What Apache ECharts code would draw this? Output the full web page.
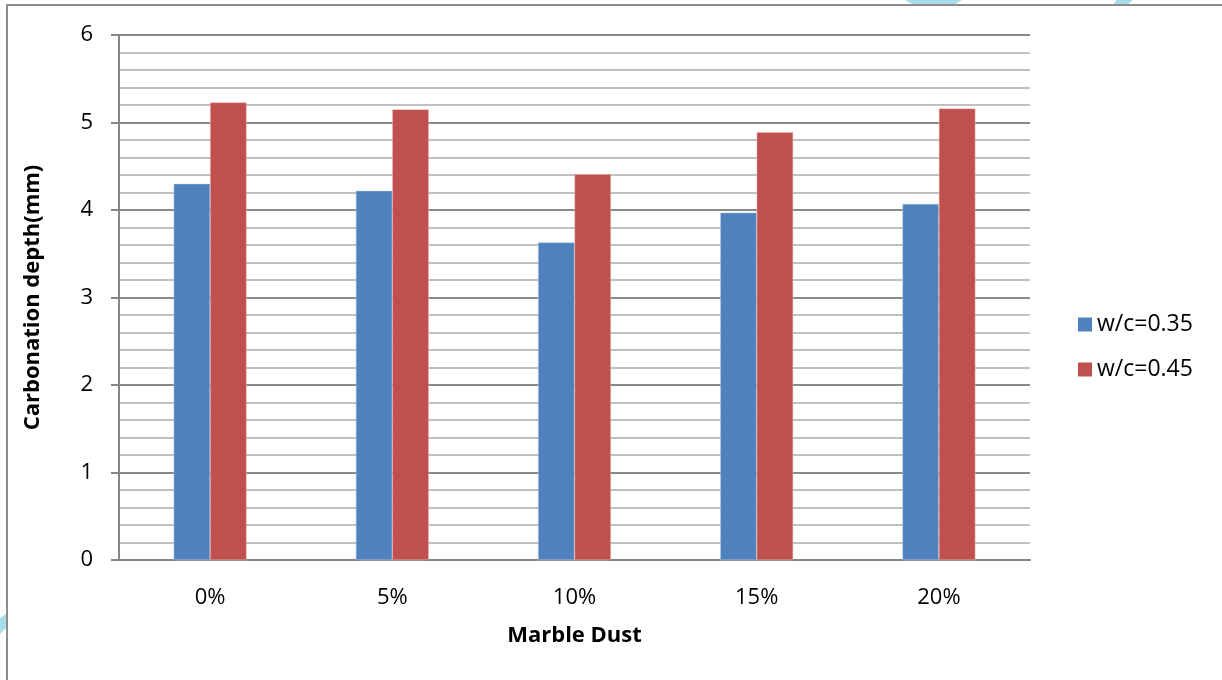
<!DOCTYPE html>
<html>
<head>
<meta charset="utf-8">
<script src="https://cdn.jsdelivr.net/npm/echarts@6/dist/echarts.min.js"></script>
<style>html,body{margin:0;padding:0;background:#fff}#c{width:1222px;height:680px}</style>
</head>
<body>
<div id="c"></div>
<script>
const categories = ['0%', '5%', '10%', '15%', '20%'];
const seriesNames = ['w/c=0.35', 'w/c=0.45'];
const wc035 = [4.30, 4.22, 3.63, 3.97, 4.07];
const wc045 = [5.23, 5.15, 4.41, 4.89, 5.16];
const yTicks = [0, 1, 2, 3, 4, 5, 6];

const FONT = '"Open Sans", "Liberation Sans", sans-serif';
const chart = echarts.init(document.getElementById('c'), null, {renderer: 'canvas'});
chart.setOption({
  animation: false,
  backgroundColor: '#ffffff',
  textStyle: {fontFamily: FONT},
  grid: {left: 119, right: 192, top: 35, bottom: 120, containLabel: false},
  legend: {
    orient: 'vertical', left: 1073, top: 308, itemGap: 22,
    itemWidth: 14, itemHeight: 14, icon: 'rect',
    itemStyle: {borderWidth: 0},
    textStyle: {fontSize: 23, color: '#000', fontFamily: FONT},
    data: seriesNames
  },
  xAxis: {
    type: 'category', data: categories,
    name: 'Marble Dust', nameLocation: 'middle', nameGap: 65,
    nameTextStyle: {fontSize: 22, fontWeight: 'bold', color: '#000', fontFamily: FONT},
    axisLine: {lineStyle: {color: '#868686', width: 2}},
    axisTick: {show: false},
    axisLabel: {fontSize: 22, color: '#000', margin: 27, fontFamily: FONT}
  },
  yAxis: {
    type: 'value', min: 0, max: 6, interval: 1,
    name: 'Carbonation depth(mm)', nameLocation: 'middle', nameGap: 75,
    nameTextStyle: {fontSize: 22, fontWeight: 'bold', color: '#000', fontFamily: FONT},
    axisLine: {show: true, lineStyle: {color: '#868686', width: 2}},
    axisTick: {show: true, length: 8, lineStyle: {color: '#868686', width: 2}},
    axisLabel: {fontSize: 22, color: '#000', margin: 26, fontFamily: FONT,
      formatter: v => yTicks.includes(v) ? String(v) : ''},
    splitLine: {show: true, lineStyle: {color: '#8a8a8a', width: 2}},
    minorTick: {show: false, splitNumber: 5},
    minorSplitLine: {show: true, lineStyle: {color: '#c0c0c0', width: 2}}
  },
  series: [
    {name: seriesNames[0], type: 'bar', data: wc035, barWidth: '20%', barGap: '0%',
     itemStyle: {color: '#4f81bd', borderColor: '#b9cde5', borderWidth: 0.5}},
    {name: seriesNames[1], type: 'bar', data: wc045, barWidth: '20%', barGap: '0%',
     itemStyle: {color: '#c0504d', borderColor: '#e6b9b8', borderWidth: 0.5}}
  ],
  graphic: [
    {type: 'polyline', shape: {points: [[7, 680], [7, 5], [1222, 5]]}, style: {stroke: '#8c8c8c', lineWidth: 2, fill: null}, silent: true},
    {type: 'polygon', shape: {points: [[905, 0], [962, 0], [955, 4], [912, 4]]}, style: {fill: '#a9dce9'}, silent: true, z: -1},
    {type: 'polygon', shape: {points: [[1116, 0], [1133, 0], [1128, 4], [1114, 4]]}, style: {fill: '#a9dce9'}, silent: true, z: -1},
    {type: 'polygon', shape: {points: [[0, 618], [6, 614], [6, 628], [0, 634]]}, style: {fill: '#a9dce9'}, silent: true, z: -1}
  ]
});
</script>
</body>
</html>
